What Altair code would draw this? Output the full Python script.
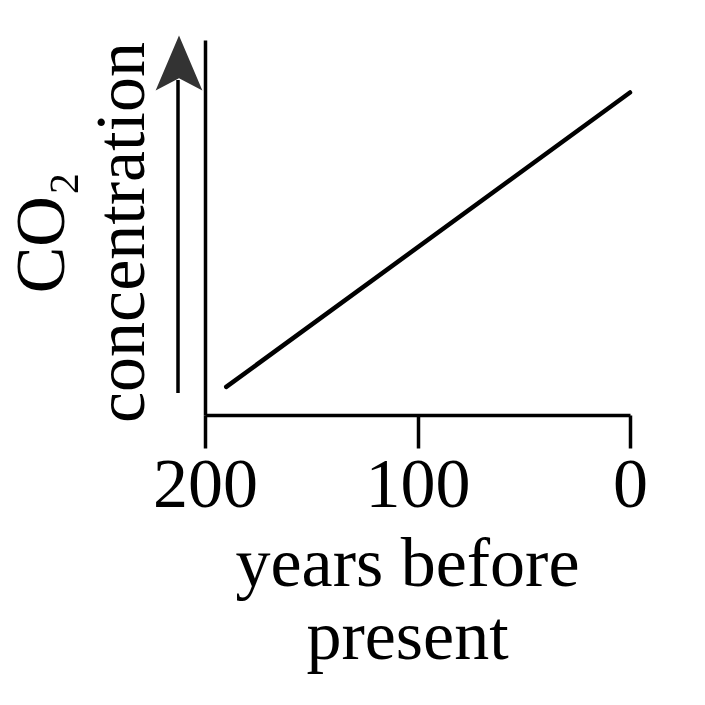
import altair as alt
import pandas as pd

# data
years = [190, 0]            # years before present
co2 = [7.5, 86]             # relative CO2 concentration (no scale shown)
x_ticks = [200, 100, 0]
x_title = ["years before", "present"]
y_title = ["CO₂", "concentration"]

FONT = "Liberation Serif"

df = pd.DataFrame({"years": years, "co2": co2})

line = alt.Chart(df).mark_line(color="black", strokeWidth=4.5, strokeCap="round").encode(
    x=alt.X(
        "years:Q",
        scale=alt.Scale(domain=[0, 200], reverse=True, nice=False, zero=False),
        axis=alt.Axis(
            values=x_ticks, format="d", grid=False, title=x_title,
            labelFlush=False, labelPadding=3, labelBaseline="top",
            titleX=202, titleY=170, titleBaseline="alphabetic",
            titleLineHeight=73, titleAnchor="middle", titleAlign="center",
        ),
    ),
    y=alt.Y(
        "co2:Q",
        scale=alt.Scale(domain=[0, 100], nice=False),
        axis=alt.Axis(
            labels=False, ticks=False, grid=False, title=y_title,
            titleAngle=270, titleX=-142, titleY=192,
            titleBaseline="alphabetic", titleAlign="center",
            titleLineHeight=80,
        ),
    ),
)

one = pd.DataFrame({"a": [0]})

shaft = alt.Chart(one).mark_rule(color="black", strokeWidth=3.5).encode(
    x=alt.value(-27), y=alt.value(40), y2=alt.value(353)
)

head = alt.Chart(one).mark_point(
    shape="M0,-1 L0.85,1 L0,0.55 L-0.85,1 Z",
    filled=True, size=3025, color="#333333", opacity=1,
).encode(x=alt.value(-26), y=alt.value(23))

chart = (
    alt.layer(line, shaft, head)
    .properties(
        width=425, height=375,
        autosize=alt.AutoSizeParams(type="none"),
        padding={"left": 205, "top": 40, "right": 75, "bottom": 290},
        background="white",
    )
    .configure_view(stroke=None)
    .configure_axis(
        domainColor="black", domainWidth=3.5,
        tickColor="black", tickWidth=3.5, tickSize=33,
        labelFont=FONT, labelFontSize=70, labelColor="black",
        titleFont=FONT, titleFontSize=70, titleFontWeight="normal", titleColor="black",
    )
)

chart.save("out.html", embed_options={"renderer": "svg", "actions": False})
